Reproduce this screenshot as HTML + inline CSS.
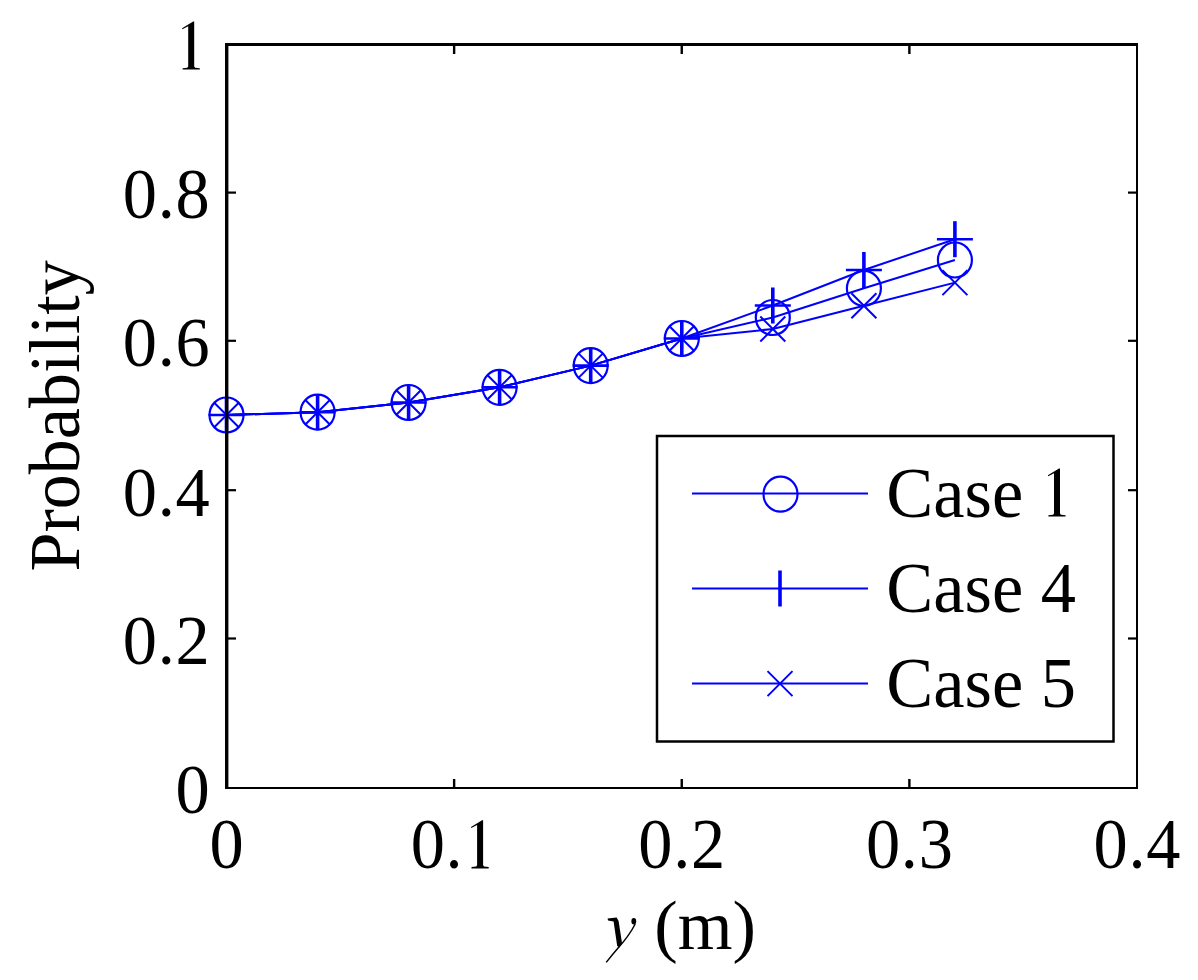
<!DOCTYPE html>
<html><head><meta charset="utf-8"><style>
html,body{margin:0;padding:0;background:#fff;width:1198px;height:980px;overflow:hidden}
svg{display:block}
text{font-family:"Liberation Serif",serif;font-size:72px;fill:#000}
</style></head><body>
<svg width="1198" height="980" viewBox="0 0 1198 980">
<rect width="1198" height="980" fill="#fff"/>
<polyline points="226.5,415.0 317.6,412.2 408.6,402.5 499.6,387.3 590.7,365.6 681.8,338.5 772.8,317.5 863.9,288.3 954.9,260.0" fill="none" stroke="#0000ff" stroke-width="2" stroke-linejoin="round"/>
<polyline points="226.5,415.0 317.6,412.2 408.6,402.5 499.6,387.3 590.7,365.6 681.8,338.5 772.8,305.5 863.9,270.0 954.9,239.2" fill="none" stroke="#0000ff" stroke-width="2" stroke-linejoin="round"/>
<polyline points="226.5,415.0 317.6,412.2 408.6,402.5 499.6,387.3 590.7,365.6 681.8,338.5 772.8,329.0 863.9,305.8 954.9,282.6" fill="none" stroke="#0000ff" stroke-width="2" stroke-linejoin="round"/>
<ellipse cx="226.5" cy="415.0" rx="17" ry="17.5" fill="none" stroke="#0000ff" stroke-width="2.2"/>
<ellipse cx="317.6" cy="412.2" rx="17" ry="17.5" fill="none" stroke="#0000ff" stroke-width="2.2"/>
<ellipse cx="408.6" cy="402.5" rx="17" ry="17.5" fill="none" stroke="#0000ff" stroke-width="2.2"/>
<ellipse cx="499.6" cy="387.3" rx="17" ry="17.5" fill="none" stroke="#0000ff" stroke-width="2.2"/>
<ellipse cx="590.7" cy="365.6" rx="17" ry="17.5" fill="none" stroke="#0000ff" stroke-width="2.2"/>
<ellipse cx="681.8" cy="338.5" rx="17" ry="17.5" fill="none" stroke="#0000ff" stroke-width="2.2"/>
<ellipse cx="772.8" cy="317.5" rx="17" ry="17.5" fill="none" stroke="#0000ff" stroke-width="2.2"/>
<ellipse cx="863.9" cy="288.3" rx="17" ry="17.5" fill="none" stroke="#0000ff" stroke-width="2.2"/>
<ellipse cx="954.9" cy="260.0" rx="17" ry="17.5" fill="none" stroke="#0000ff" stroke-width="2.2"/>
<path d="M208.5 415.0H244.5" stroke="#0000ff" stroke-width="2.6"/>
<path d="M226.5 397.0V433.0" stroke="#0000ff" stroke-width="3.6"/>
<path d="M299.6 412.2H335.6" stroke="#0000ff" stroke-width="2.6"/>
<path d="M317.6 394.2V430.2" stroke="#0000ff" stroke-width="3.6"/>
<path d="M390.6 402.5H426.6" stroke="#0000ff" stroke-width="2.6"/>
<path d="M408.6 384.5V420.5" stroke="#0000ff" stroke-width="3.6"/>
<path d="M481.6 387.3H517.6" stroke="#0000ff" stroke-width="2.6"/>
<path d="M499.6 369.3V405.3" stroke="#0000ff" stroke-width="3.6"/>
<path d="M572.7 365.6H608.7" stroke="#0000ff" stroke-width="2.6"/>
<path d="M590.7 347.6V383.6" stroke="#0000ff" stroke-width="3.6"/>
<path d="M663.8 338.5H699.8" stroke="#0000ff" stroke-width="2.6"/>
<path d="M681.8 320.5V356.5" stroke="#0000ff" stroke-width="3.6"/>
<path d="M754.8 305.5H790.8" stroke="#0000ff" stroke-width="2.6"/>
<path d="M772.8 287.5V323.5" stroke="#0000ff" stroke-width="3.6"/>
<path d="M845.9 270.0H881.9" stroke="#0000ff" stroke-width="2.6"/>
<path d="M863.9 252.0V288.0" stroke="#0000ff" stroke-width="3.6"/>
<path d="M936.9 239.2H972.9" stroke="#0000ff" stroke-width="2.6"/>
<path d="M954.9 221.2V257.2" stroke="#0000ff" stroke-width="3.6"/>
<path d="M214.0 402.5L239.0 427.5M214.0 427.5L239.0 402.5" stroke="#0000ff" stroke-width="2"/>
<path d="M305.1 399.7L330.1 424.7M305.1 424.7L330.1 399.7" stroke="#0000ff" stroke-width="2"/>
<path d="M396.1 390.0L421.1 415.0M396.1 415.0L421.1 390.0" stroke="#0000ff" stroke-width="2"/>
<path d="M487.1 374.8L512.1 399.8M487.1 399.8L512.1 374.8" stroke="#0000ff" stroke-width="2"/>
<path d="M578.2 353.1L603.2 378.1M578.2 378.1L603.2 353.1" stroke="#0000ff" stroke-width="2"/>
<path d="M669.2 326.0L694.2 351.0M669.2 351.0L694.2 326.0" stroke="#0000ff" stroke-width="2"/>
<path d="M760.3 316.5L785.3 341.5M760.3 341.5L785.3 316.5" stroke="#0000ff" stroke-width="2"/>
<path d="M851.4 293.3L876.4 318.3M851.4 318.3L876.4 293.3" stroke="#0000ff" stroke-width="2"/>
<path d="M942.4 270.1L967.4 295.1M942.4 295.1L967.4 270.1" stroke="#0000ff" stroke-width="2"/>
<rect x="225" y="43" width="3.4" height="746" fill="#000"/>
<rect x="1136" y="43" width="2" height="746" fill="#000"/>
<rect x="225" y="43" width="913" height="3" fill="#000"/>
<rect x="225" y="787" width="913" height="2" fill="#000"/>
<rect x="452.93" y="779" width="2.4" height="8" fill="#000"/>
<rect x="452.93" y="46" width="2.4" height="8" fill="#000"/>
<rect x="680.55" y="779" width="2.4" height="8" fill="#000"/>
<rect x="680.55" y="46" width="2.4" height="8" fill="#000"/>
<rect x="908.17" y="779" width="2.4" height="8" fill="#000"/>
<rect x="908.17" y="46" width="2.4" height="8" fill="#000"/>
<rect x="228" y="637.40" width="8" height="2.2" fill="#000"/>
<rect x="1128" y="637.40" width="8" height="2.2" fill="#000"/>
<rect x="228" y="489.10" width="8" height="2.2" fill="#000"/>
<rect x="1128" y="489.10" width="8" height="2.2" fill="#000"/>
<rect x="228" y="339.70" width="8" height="2.2" fill="#000"/>
<rect x="1128" y="339.70" width="8" height="2.2" fill="#000"/>
<rect x="228" y="191.50" width="8" height="2.2" fill="#000"/>
<rect x="1128" y="191.50" width="8" height="2.2" fill="#000"/>
<rect x="657" y="436" width="456.5" height="305.5" fill="#fff" stroke="#000" stroke-width="2.5"/>
<path d="M692 493.4H868" stroke="#0000ff" stroke-width="2"/>
<path d="M692 588.5H868" stroke="#0000ff" stroke-width="2"/>
<path d="M692 683.6H868" stroke="#0000ff" stroke-width="2"/>
<ellipse cx="780.5" cy="494.2" rx="17" ry="17.5" fill="none" stroke="#0000ff" stroke-width="2.2"/>
<path d="M780 570.5V606.5" stroke="#0000ff" stroke-width="3.6"/>
<path d="M767.5 671.1L792.5 696.1M767.5 696.1L792.5 671.1" stroke="#0000ff" stroke-width="2"/>
<text transform="translate(192.70 813.20) scale(0.95 0.977)" text-anchor="middle">0</text>
<text transform="translate(139.88 663.80) scale(0.95 0.965)" text-anchor="middle">0</text>
<text transform="translate(166.29 663.80) scale(0.95 0.965)" text-anchor="middle">.</text>
<text transform="translate(192.70 663.80) scale(0.95 0.965)" text-anchor="middle">2</text>
<text transform="translate(139.88 515.50) scale(0.95 0.975)" text-anchor="middle">0</text>
<text transform="translate(166.29 515.50) scale(0.95 0.975)" text-anchor="middle">.</text>
<text transform="translate(192.70 515.50) scale(0.95 0.975)" text-anchor="middle">4</text>
<text transform="translate(139.88 366.10) scale(0.95 0.963)" text-anchor="middle">0</text>
<text transform="translate(166.29 366.10) scale(0.95 0.963)" text-anchor="middle">.</text>
<text transform="translate(192.70 366.10) scale(0.95 0.963)" text-anchor="middle">6</text>
<text transform="translate(139.88 217.90) scale(0.95 1.0)" text-anchor="middle">0</text>
<text transform="translate(166.29 217.90) scale(0.95 1.0)" text-anchor="middle">.</text>
<text transform="translate(192.70 217.90) scale(0.95 1.0)" text-anchor="middle">8</text>
<path d="M182.60 69.60 L182.60 68.30 L187.20 67.80 L188.20 66.40 L188.20 26.20 L182.40 29.20 L182.10 28.30 L193.20 21.40 L194.20 21.40 L194.20 66.40 L195.20 67.80 L199.80 68.30 L199.80 69.60Z" fill="#000"/>
<text transform="translate(226.50 868.30) scale(0.95 1.0)" text-anchor="middle">0</text>
<text transform="translate(655.34 868.30) scale(0.95 1.0)" text-anchor="middle">0</text>
<text transform="translate(681.75 868.30) scale(0.95 1.0)" text-anchor="middle">.</text>
<text transform="translate(708.16 868.30) scale(0.95 1.0)" text-anchor="middle">2</text>
<text transform="translate(882.97 868.30) scale(0.95 1.0)" text-anchor="middle">0</text>
<text transform="translate(909.37 868.30) scale(0.95 1.0)" text-anchor="middle">.</text>
<text transform="translate(935.78 868.30) scale(0.95 1.0)" text-anchor="middle">3</text>
<text transform="translate(1110.59 868.30) scale(0.95 1.0)" text-anchor="middle">0</text>
<text transform="translate(1137.00 868.30) scale(0.95 1.0)" text-anchor="middle">.</text>
<text transform="translate(1163.41 868.30) scale(0.95 1.0)" text-anchor="middle">4</text>
<text transform="translate(427.72 868.30) scale(0.95 1.0)" text-anchor="middle">0</text>
<text transform="translate(454.12 868.30) scale(0.95 1.0)" text-anchor="middle">.</text>
<path d="M471.50 868.40 L471.50 867.10 L476.10 866.60 L477.10 865.20 L477.10 825.00 L471.30 828.00 L471.00 827.10 L482.10 820.20 L483.10 820.20 L483.10 865.20 L484.10 866.60 L488.70 867.10 L488.70 868.40Z" fill="#000"/>
<path d="M607.6 918.6 L616.6 917.6 L618.6 921 L622 943 L619.4 947.5 L617.2 946 L613.6 921.5 L608 920.5Z" fill="#000"/>
<path d="M635.2 924 Q629 936 618.5 947.5 Q612 955 606.2 962.4" fill="none" stroke="#000" stroke-width="1.5"/>
<ellipse cx="633.8" cy="921.2" rx="2.4" ry="3.2" fill="#000"/>
<text transform="translate(654.3 949.2) scale(0.978 0.975)">(m)</text>
<text transform="translate(78.6 571.5) rotate(-90) scale(0.973 1)">Probability</text>
<text transform="translate(886.3 517.4) scale(0.978 0.99)">Case</text>
<text transform="translate(886.3 612.4) scale(0.978 0.99)">Case 4</text>
<text transform="translate(886.3 707.4) scale(0.978 0.99)">Case 5</text>
<path d="M1048.40 516.60 L1048.40 515.30 L1053.00 514.80 L1054.00 513.40 L1054.00 473.20 L1048.20 476.20 L1047.90 475.30 L1059.00 468.40 L1060.00 468.40 L1060.00 513.40 L1061.00 514.80 L1065.60 515.30 L1065.60 516.60Z" fill="#000"/>
</svg>
</body></html>
